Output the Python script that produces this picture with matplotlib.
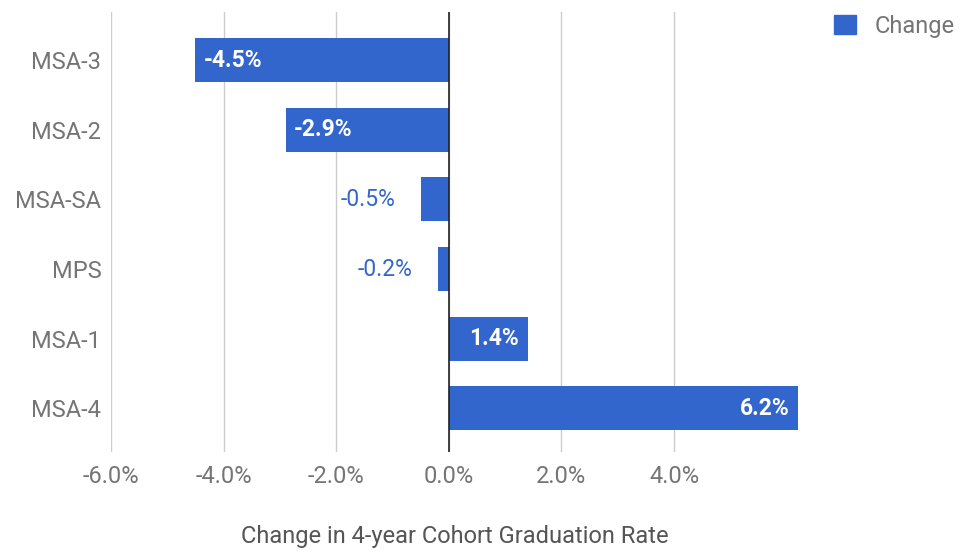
import matplotlib.pyplot as plt
from matplotlib.patches import Patch

categories = ['MSA-3', 'MSA-2', 'MSA-SA', 'MPS', 'MSA-1', 'MSA-4']
change = [-4.5, -2.9, -0.5, -0.2, 1.4, 6.2]
tick_values = [-6, -4, -2, 0, 2, 4]

BAR_COLOR = '#3366cc'
TEXT_GREY = '#757575'

plt.rcParams['font.family'] = ['Roboto', 'DejaVu Sans']

fig = plt.figure(figsize=(9.61, 5.52), dpi=100)
ax = fig.add_axes([0.1155, 0.181, 0.7149, 0.797])

y = list(range(len(categories)))
ax.barh(y, change, height=0.63, color=BAR_COLOR, zorder=2)
ax.set_ylim(5.63, -0.69)
ax.set_xlim(-6, 6.2)

# value labels: inside for long bars, outside for short ones
for yi, v in zip(y, change):
    txt = '%.1f%%' % v
    if abs(v) >= 1:
        if v < 0:
            ax.text(v + 0.15, yi, txt, color='white', fontsize=16.5, fontweight='bold',
                    ha='left', va='center', zorder=3)
        else:
            ax.text(v - 0.15, yi, txt, color='white', fontsize=16.5, fontweight='bold',
                    ha='right', va='center', zorder=3)
    else:
        ax.text(v - 0.44, yi, txt, color=BAR_COLOR, fontsize=16.5,
                ha='right', va='center', zorder=3)

ax.set_xticks(tick_values)
ax.set_xticklabels(['%.1f%%' % t for t in tick_values])
ax.set_yticks(y)
ax.set_yticklabels(categories)
ax.tick_params(axis='both', length=0, labelsize=17, colors=TEXT_GREY)
ax.tick_params(axis='x', pad=9)
ax.tick_params(axis='y', pad=7)

ax.grid(axis='x', color='#cccccc', linewidth=1, zorder=0)
ax.axvline(0, color='#222222', linewidth=1.2, zorder=4)
for s in ax.spines.values():
    s.set_visible(False)

ax.set_xlabel('Change in 4-year Cohort Graduation Rate', fontsize=17,
              color='#555555', labelpad=27)

fig.legend(handles=[Patch(color=BAR_COLOR, label='Change')],
           loc='upper left', bbox_to_anchor=(0.846, 1.012), frameon=False,
           fontsize=17, labelcolor=TEXT_GREY, handlelength=0.9, handleheight=0.9,
           handletextpad=0.8)

fig.savefig('out.png', dpi=100)
